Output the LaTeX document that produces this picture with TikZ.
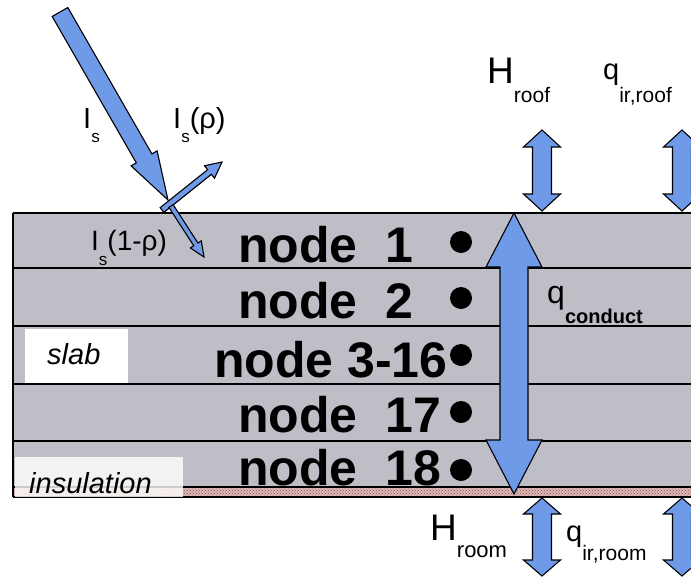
\documentclass[tikz,border=0pt]{standalone}
\usepackage{fontspec}
\setmainfont{Liberation Sans}
\usetikzlibrary{calc,patterns}
\definecolor{slabgray}{HTML}{BEBEC7}
\definecolor{sunblue}{HTML}{6F9AE8}
\definecolor{insulred}{HTML}{9A4040}
\definecolor{insulpink}{HTML}{D9B9B9}
\newcommand{\low}[3]{\raisebox{-#1}{\fontsize{#2}{#2}\selectfont #3}}
\newcommand{\fatarrow}[5]{%
  \coordinate (h) at ($(#2)!#5pt!(#1)$);
  \draw[blockarr] ($(#1)!#3pt!90:(#2)$) -- ($(h)!#3pt!90:(#2)$) -- ($(h)!#4pt!90:(#2)$) -- (#2)
    -- ($(h)!#4pt!-90:(#2)$) -- ($(h)!#3pt!-90:(#2)$) -- ($(#1)!#3pt!-90:(#2)$) -- cycle;}
\newcommand{\fatdblarrow}[5]{%
  \coordinate (h1) at ($(#1)!#5pt!(#2)$);
  \coordinate (h2) at ($(#2)!#5pt!(#1)$);
  \draw[blockarr] (#1) -- ($(h1)!#4pt!90:(#2)$) -- ($(h1)!#3pt!90:(#2)$) -- ($(h2)!#3pt!90:(#2)$)
    -- ($(h2)!#4pt!90:(#2)$) -- (#2) -- ($(h2)!#4pt!-90:(#2)$) -- ($(h2)!#3pt!-90:(#2)$)
    -- ($(h1)!#3pt!-90:(#2)$) -- ($(h1)!#4pt!-90:(#2)$) -- cycle;}

\begin{document}
\begin{tikzpicture}[x=1pt, y=1pt,
  blockarr/.style={draw=black, line width=1.1pt, fill=sunblue, line join=miter},
  layerline/.style={line width=1.3pt},
  nodelbl/.style={anchor=base west, inner sep=0pt, font=\fontsize{50}{50}\selectfont\bfseries},
  nodedot/.style={circle, fill=black, inner sep=0pt, minimum size=22pt},
  lbl/.style={anchor=base west, inner sep=0pt, font=\fontsize{29}{29}\selectfont}
]
\useasboundingbox (0,0) rectangle (691,-576);

% slab layers
\fill[slabgray] (13,-213) rectangle (700,-497);
\fill[insulpink] (13,-487) rectangle (700,-497);
\fill[pattern=crosshatch dots, pattern color=insulred] (13,-487) rectangle (700,-497);
\foreach \y in {213,268,326,384,441,487,497}
  \draw[layerline] (13,-\y) -- (700,-\y);
\draw[layerline] (13,-213) -- (13,-497);
\fill[white] (25,-329) rectangle (128,-383);
\fill[white, fill opacity=.8] (15,-457) rectangle (183,-497);

\foreach \n/\txt/\x/\yb/\yd in {1/node~~1/238/262/242, 2/node~~2/238/318/298,
    3/node 3-16/214/377/355, 17/node~~17/238/432/412, 18/node~~18/238/485/470} {
  \node[nodelbl] (n\n) at (\x,-\yb) {\txt};
  \node[nodedot] (d\n) at (461,-\yd) {};
}

% solar radiation
\coordinate (sun) at (60,-12);
\coordinate (hit) at (168,-200);
\coordinate (reflbase) at (162,-210);
\coordinate (refltip) at (222,-162);
\coordinate (transbase) at (171,-206);
\coordinate (transtip) at (204,-257);
\fatarrow{sun}{hit}{9}{15}{48}
\fatarrow{reflbase}{refltip}{3}{8}{16}
\fatarrow{transbase}{transtip}{2.5}{6.5}{15}

% conduction through the slab
\coordinate (slabtop) at (514,-213);
\coordinate (slabbot) at (514,-494);
\fatdblarrow{slabtop}{slabbot}{14}{28}{54}

\foreach \x in {542,682} {
  \coordinate (up\x) at (\x,-130);
  \coordinate (dn\x) at (\x,-211);
  \fatdblarrow{up\x}{dn\x}{9.5}{18.5}{17}
  \coordinate (rmup\x) at (\x,-498);
  \coordinate (rmdn\x) at (\x,-576);
  \fatdblarrow{rmup\x}{rmdn\x}{9.5}{18.5}{16}
}

\node[lbl] (is) at (83,-128) {I\low{14pt}{17}{s}};
\node[lbl] (isr) at (173,-128) {I\low{14pt}{17}{s}(ρ)};
\node[lbl, font=\fontsize{28}{28}\selectfont] (ist) at (91,-250) {I\low{15pt}{17}{s}(1-ρ)};
\node[lbl, font=\fontsize{37}{37}\selectfont] (hroof) at (487,-83) {H\low{19pt}{21}{roof}};
\node[lbl, font=\fontsize{29}{29}\selectfont] (qroof) at (603,-79) {q\low{23pt}{21}{ir,roof}};
\node[lbl, font=\fontsize{37}{37}\selectfont] (hroom) at (430,-540) {H\low{17pt}{22}{room}};
\node[lbl, font=\fontsize{29}{29}\selectfont] (qroom) at (566,-541) {q\low{19pt}{21}{ir,room}};
\node[lbl, font=\fontsize{32}{32}\selectfont] (qcond) at (547,-303) {q\low{20pt}{20}{\bfseries conduct}};
\node[lbl, font=\fontsize{29}{29}\selectfont\itshape] (slab) at (47,-364) {slab};
\node[lbl, font=\fontsize{29}{29}\selectfont\itshape] (insul) at (29,-493) {insulation};
\end{tikzpicture}
\end{document}
